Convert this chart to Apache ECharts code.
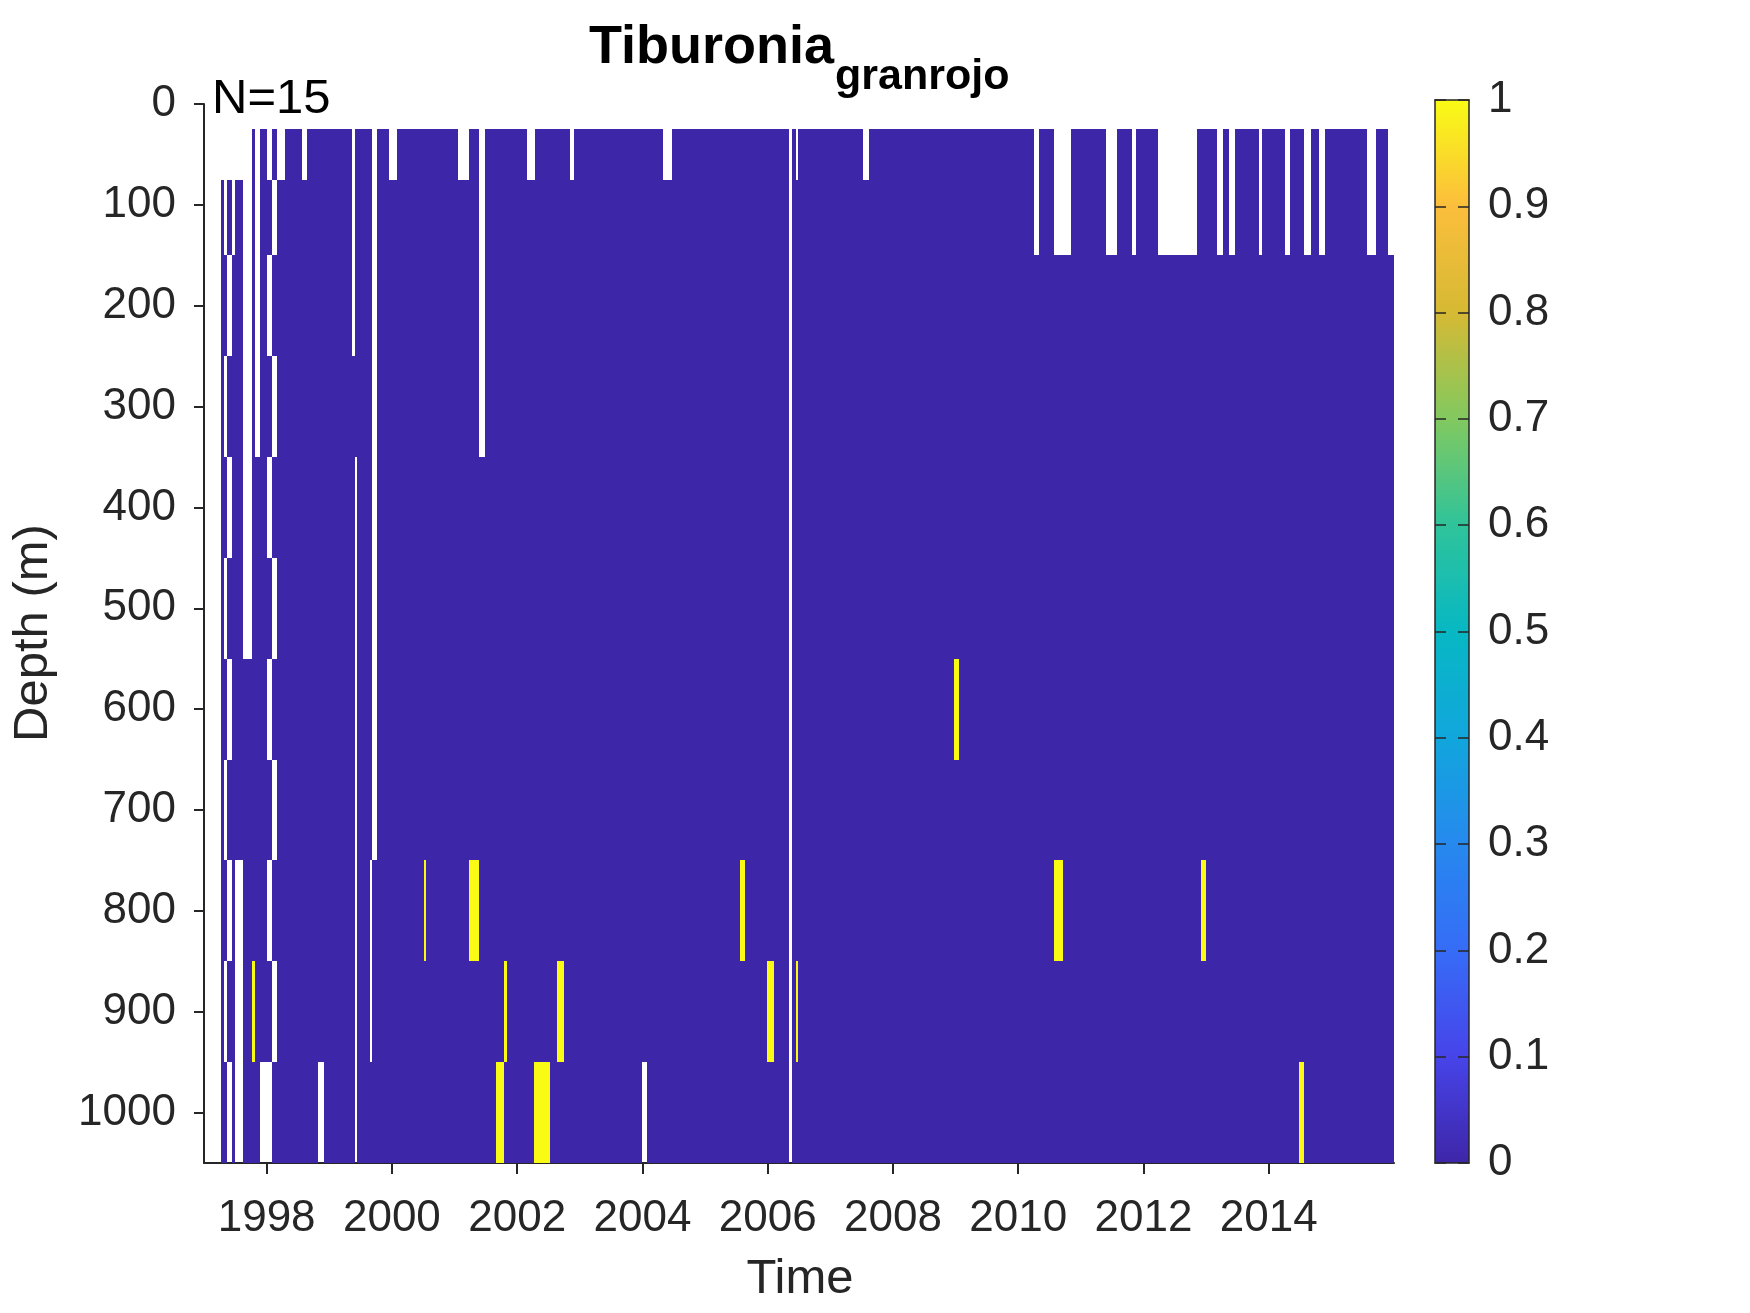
<!DOCTYPE html>
<html>
<head>
<meta charset="utf-8">
<script src="https://cdn.jsdelivr.net/npm/echarts@6/dist/echarts.min.js"></script>
<style>html,body{margin:0;padding:0;background:#fff}#chart{width:1750px;height:1313px}</style>
</head>
<body>
<div id="chart"></div>
<script>
// depth bin edges (m) of the 11 sampled layers
const depthEdges = [25, 75, 150, 250, 350, 450, 550, 650, 750, 850, 950, 1050];
// first / last sampled time (decimal year) in each layer
const rowStart = [1997.761, 1997.266, 1997.266, 1997.266, 1997.266, 1997.266, 1997.266, 1997.266, 1997.266, 1997.266, 1997.266];
const rowEnd = [2015.899, 2015.899, 2016.0, 2016.0, 2016.0, 2016.0, 2016.0, 2016.0, 2016.0, 2016.0, 2016.0];
// missing samples (NaN): [firstLayer, lastLayer, fromYear, toYear]
const missingSpans = [
  [0, 0, 1997.813, 1997.888], [0, 0, 1998.005, 1998.085], [0, 0, 1998.160, 1998.287],
  [1, 1, 1997.314, 1997.362], [3, 3, 1997.314, 1997.362], [5, 5, 1997.314, 1997.362], [7, 7, 1997.314, 1997.362], [9, 9, 1997.314, 1997.362],
  [2, 2, 1997.362, 1997.441], [4, 4, 1997.362, 1997.441], [6, 6, 1997.362, 1997.441], [8, 8, 1997.362, 1997.441], [10, 10, 1997.362, 1997.441],
  [1, 1, 1997.441, 1997.489],
  [8, 10, 1997.489, 1997.617],
  [1, 5, 1997.617, 1997.761],
  [1, 3, 1997.813, 1997.888],
  [10, 10, 1997.888, 1998.005],
  [2, 2, 1998.005, 1998.085], [4, 4, 1998.005, 1998.085], [6, 6, 1998.005, 1998.085], [8, 8, 1998.005, 1998.085], [10, 10, 1998.005, 1998.085],
  [1, 1, 1998.085, 1998.160], [3, 3, 1998.085, 1998.160], [5, 5, 1998.085, 1998.160], [7, 7, 1998.085, 1998.160], [9, 9, 1998.085, 1998.160],
  [0, 0, 1998.563, 1998.649],
  [10, 10, 1998.819, 1998.910],
  [0, 2, 1999.370, 1999.405],
  [4, 10, 1999.405, 1999.435],
  [8, 9, 1999.650, 1999.690],
  [0, 7, 1999.690, 1999.755],
  [0, 0, 1999.947, 2000.074],
  [0, 0, 2001.048, 2001.239],
  [0, 3, 2001.383, 2001.479],
  [0, 0, 2002.165, 2002.277],
  [0, 0, 2002.851, 2002.915],
  [10, 10, 2003.999, 2004.079],
  [0, 0, 2004.335, 2004.479],
  [0, 10, 2006.345, 2006.385],
  [0, 0, 2006.457, 2006.478],
  [0, 0, 2007.526, 2007.622],
  [0, 1, 2010.255, 2010.335],
  [0, 1, 2010.574, 2010.845],
  [0, 1, 2011.403, 2011.579],
  [0, 1, 2011.818, 2011.882],
  [0, 1, 2012.233, 2012.855],
  [0, 1, 2013.175, 2013.270],
  [0, 1, 2013.366, 2013.462],
  [0, 1, 2013.845, 2013.898],
  [0, 1, 2014.260, 2014.340],
  [0, 1, 2014.568, 2014.675],
  [0, 1, 2014.803, 2014.898],
  [0, 1, 2015.568, 2015.717]
];
// samples with value 1: [layer, fromYear, toYear]
const presentCells = [
  [6, 2008.978, 2009.058],
  [8, 2000.505, 2000.548], [8, 2001.239, 2001.383], [8, 2005.559, 2005.643], [8, 2010.574, 2010.718], [8, 2012.919, 2012.999],
  [9, 1997.761, 1997.813], [9, 2001.782, 2001.841], [9, 2002.643, 2002.755], [9, 2005.994, 2006.106], [9, 2006.457, 2006.489],
  [10, 2001.665, 2001.782], [10, 2002.276, 2002.532], [10, 2014.483, 2014.563]
];
const yearTicks = [1998, 2000, 2002, 2004, 2006, 2008, 2010, 2012, 2014];
const depthTicks = [0, 100, 200, 300, 400, 500, 600, 700, 800, 900, 1000];
const colorbarTicks = [0, 0.1, 0.2, 0.3, 0.4, 0.5, 0.6, 0.7, 0.8, 0.9, 1];
const parula = ['#3E26A8', '#4744E9', '#366CF7', '#2689EE', '#11A6DC', '#07B8C3', '#2FC39A', '#82C95F', '#D6B934', '#FBBE3C', '#F9FB15'];

function buildCells() {
  const cells = [];
  for (let r = 0; r < depthEdges.length - 1; r++) {
    const gaps = missingSpans.filter(g => r >= g[0] && r <= g[1]).map(g => [g[2], g[3]]);
    const ones = presentCells.filter(c => c[0] === r).map(c => [c[1], c[2]]);
    const pts = new Set([rowStart[r], rowEnd[r]]);
    gaps.concat(ones).forEach(([a, b]) => { pts.add(a); pts.add(b); });
    const sorted = [...pts].filter(p => p >= rowStart[r] && p <= rowEnd[r]).sort((a, b) => a - b);
    let cur = null;
    const flush = () => { if (cur && cur.v !== null) cells.push([cur.a, cur.b, depthEdges[r], depthEdges[r + 1], cur.v]); };
    for (let i = 0; i < sorted.length - 1; i++) {
      const a = sorted[i], b = sorted[i + 1], m = (a + b) / 2;
      let v;
      if (gaps.some(([g0, g1]) => m > g0 && m < g1)) v = null;
      else if (ones.some(([o0, o1]) => m > o0 && m < o1)) v = 1;
      else v = 0;
      if (cur && cur.v === v && cur.b === a) cur.b = b;
      else { flush(); cur = { a, b, v }; }
    }
    flush();
  }
  return cells;
}

const FONT = '"Liberation Sans", Arial, Helvetica, sans-serif';
const AX = '#262626';
const chart = echarts.init(document.getElementById('chart'), null, { renderer: 'canvas' });

const option = {
  animation: false,
  backgroundColor: '#ffffff',
  grid: [
    { left: 204, width: 1190, top: 104, height: 1059 },
    { left: 1435, width: 34, top: 100, height: 1063 }
  ],
  xAxis: [
    {
      type: 'value', gridIndex: 0, min: 1997, max: 2016,
      axisLine: { show: true, onZero: false, lineStyle: { color: AX, width: 2 } },
      axisTick: { show: true, inside: false, length: 11, lineStyle: { color: AX, width: 2 }, customValues: yearTicks },
      axisLabel: { show: true, customValues: yearTicks, fontSize: 44, fontFamily: FONT, color: AX, margin: 34, formatter: v => String(v) },
      splitLine: { show: false }
    },
    {
      type: 'value', gridIndex: 1, min: 0, max: 1, position: 'bottom', z: 10,
      axisLine: { show: true, onZero: false, lineStyle: { color: AX, width: 1.5 } },
      axisTick: { show: false }, axisLabel: { show: false }, splitLine: { show: false }
    },
    {
      type: 'value', gridIndex: 1, min: 0, max: 1, position: 'top', z: 10,
      axisLine: { show: true, onZero: false, lineStyle: { color: AX, width: 1.5 } },
      axisTick: { show: false }, axisLabel: { show: false }, splitLine: { show: false }
    }
  ],
  yAxis: [
    {
      type: 'value', gridIndex: 0, min: 0, max: 1050, inverse: true,
      axisLine: { show: true, onZero: false, lineStyle: { color: AX, width: 2 } },
      axisTick: { show: true, inside: false, length: 10, lineStyle: { color: AX, width: 2 }, customValues: depthTicks },
      axisLabel: { show: true, customValues: depthTicks, fontSize: 44, fontFamily: FONT, color: AX, margin: 28, padding: [6, 0, 0, 0], formatter: v => String(v) },
      splitLine: { show: false }
    },
    {
      type: 'value', gridIndex: 1, min: 0, max: 1, position: 'right', z: 10,
      axisLine: { show: true, onZero: false, lineStyle: { color: AX, width: 1.5 } },
      axisTick: { show: true, inside: true, length: 11, lineStyle: { color: AX, width: 1.5 }, customValues: colorbarTicks },
      axisLabel: { show: true, customValues: colorbarTicks, fontSize: 44, fontFamily: FONT, color: AX, margin: 19, padding: [8, 0, 0, 0], formatter: v => String(v) },
      splitLine: { show: false }
    },
    {
      type: 'value', gridIndex: 1, min: 0, max: 1, position: 'left', z: 10,
      axisLine: { show: true, onZero: false, lineStyle: { color: AX, width: 1.5 } },
      axisTick: { show: true, inside: true, length: 11, lineStyle: { color: AX, width: 1.5 }, customValues: colorbarTicks },
      axisLabel: { show: false },
      splitLine: { show: false }
    }
  ],
  visualMap: {
    type: 'continuous', show: true, seriesIndex: 0, dimension: 4, min: 0, max: 1,
    orient: 'vertical', left: 1435, top: 100, itemWidth: 34, itemHeight: 1063,
    padding: 0, calculable: false, hoverLink: false, showLabel: false, text: null, z: 1,
    inRange: { color: parula }
  },
  series: [
    {
      type: 'custom', xAxisIndex: 0, yAxisIndex: 0, silent: true, clip: true,
      encode: { x: [0, 1], y: [2, 3] },
      data: buildCells(),
      renderItem: (params, api) => {
        const p0 = api.coord([api.value(0), api.value(2)]);
        const p1 = api.coord([api.value(1), api.value(3)]);
        const x0 = Math.round(p0[0]), x1 = Math.round(p1[0]);
        const y0 = Math.round(p0[1]), y1 = Math.round(p1[1]);
        return { type: 'rect', shape: { x: x0, y: y0, width: Math.max(1, x1 - x0), height: y1 - y0 }, style: { fill: api.visual('color') } };
      }
    }
  ],
  graphic: [
    { type: 'text', x: 589, y: 48, style: { text: 'Tiburonia', font: 'bold 54px ' + FONT, fill: '#000', align: 'left', verticalAlign: 'middle' } },
    { type: 'text', x: 835, y: 77, style: { text: 'granrojo', font: 'bold 43px ' + FONT, fill: '#000', align: 'left', verticalAlign: 'middle' } },
    { type: 'text', x: 212, y: 99, style: { text: 'N=15', font: '49px ' + FONT, fill: '#000', align: 'left', verticalAlign: 'middle' } },
    { type: 'text', x: 800, y: 1279, style: { text: 'Time', font: '49px ' + FONT, fill: AX, align: 'center', verticalAlign: 'middle' } },
    { type: 'text', x: 33, y: 633, rotation: Math.PI / 2, style: { text: 'Depth (m)', font: '49px ' + FONT, fill: AX, align: 'center', verticalAlign: 'middle' } }
  ]
};
chart.setOption(option);
</script>
</body>
</html>
